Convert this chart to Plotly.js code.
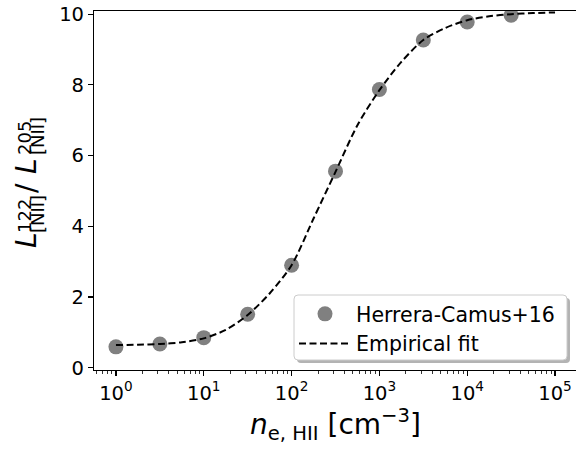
<!DOCTYPE html>
<html><head><meta charset="utf-8">
<script src="https://cdn.plot.ly/plotly-3.0.1.min.js"></script>
<style>html,body{margin:0;padding:0;overflow:hidden;background:#fff}#chart{width:600px;height:449px}</style>
</head><body><div id="chart"></div>
<script>
// ---- data ----
const obsDensity = [1, 3.162, 10, 31.62, 100, 316.2, 1000, 3162, 10000, 31623];
const obsRatio   = [0.59, 0.67, 0.85, 1.51, 2.90, 5.56, 7.87, 9.27, 9.78, 9.97];
const fitDensity = [1, 1.778, 3.162, 5.623, 10, 17.78, 31.62, 56.23, 100, 177.8, 316.2, 562.3,
                    1000, 1778, 3162, 5623, 10000, 17783, 31623, 56234, 100000];
const fitRatio   = [0.64, 0.65, 0.67, 0.72, 0.83, 1.07, 1.49, 2.10, 2.90, 4.22, 5.54, 6.86,
                    7.85, 8.65, 9.27, 9.61, 9.83, 9.94, 10.00, 10.03, 10.05];
const seriesNames = ['Herrera-Camus+16', 'Empirical fit'];
const xTickVals = [1, 10, 100, 1000, 10000, 100000];
const xTickText = ['10<sup>0</sup>', '10<sup>1</sup>', '10<sup>2</sup>', '10<sup>3</sup>', '10<sup>4</sup>', '10<sup>5</sup>'];
const yTickVals = [0, 2, 4, 6, 8, 10];
const yTickText = ['0', '2', '4', '6', '8', '10'];

// ---- geometry (pixels) ----
const FW = 600, FH = 449;
const PL = 94, PR = 577, PT = 11, PB = 370;
const PW = PR - PL, PH = PB - PT;
const px = v => (v - PL) / PW;
const py = v => (PB - v) / PH;

const minorX = [];
for (let d = -1; d <= 5; d++) for (let m = 2; m <= 9; m++) {
  const v = m * Math.pow(10, d);
  if (v > 0.56 && v < 178000) minorX.push(v);
}

function roundRect(x0, y0, x1, y1, r) {
  const rx = r / PW, ry = r / PH;
  const X0 = px(x0), X1 = px(x1), Y0 = py(y0), Y1 = py(y1);
  return `M${X0 + rx},${Y0} L${X1 - rx},${Y0} Q${X1},${Y0} ${X1},${Y0 - ry} ` +
         `L${X1},${Y1 + ry} Q${X1},${Y1} ${X1 - rx},${Y1} L${X0 + rx},${Y1} ` +
         `Q${X0},${Y1} ${X0},${Y1 + ry} L${X0},${Y0 - ry} Q${X0},${Y0} ${X0 + rx},${Y0} Z`;
}

const FONT = 'DejaVu Sans, sans-serif';

const traces = [
  {
    x: obsDensity, y: obsRatio, name: seriesNames[0], type: 'scatter', mode: 'markers',
    marker: {size: 15, color: '#808080', line: {width: 0}}
  },
  {
    x: fitDensity, y: fitRatio, name: seriesNames[1], type: 'scatter', mode: 'lines',
    line: {color: '#000000', width: 2, dash: '7px,3.5px', shape: 'spline', smoothing: 0.8}
  }
];

function yPart(text, cx, cy, size) {
  return {
    xref: 'paper', yref: 'paper', x: 0, y: 0, xshift: cx - PL, yshift: PB - cy,
    xanchor: 'center', yanchor: 'middle', showarrow: false, textangle: -90,
    text: text, font: {family: FONT, size: size, color: '#000'}
  };
}

const layout = {
  width: FW, height: FH,
  margin: {l: PL, r: FW - PR, t: PT, b: FH - PB, pad: 0},
  paper_bgcolor: '#fff', plot_bgcolor: '#fff',
  showlegend: true,
  font: {family: FONT, color: '#000', size: 19.5},
  xaxis: {
    type: 'log', range: [-0.25, 5.25],
    showline: true, linecolor: '#000', linewidth: 1.1, mirror: true,
    showgrid: false, zeroline: false,
    ticks: 'outside', ticklen: 5, tickwidth: 1.1, tickcolor: '#000',
    tickmode: 'array', tickvals: xTickVals, ticktext: xTickText,
    tickfont: {family: FONT, size: 19.5, color: '#000'},
    minor: {tickmode: 'array', tickvals: minorX, ticks: 'outside', ticklen: 3, tickwidth: 0.8, tickcolor: '#000', showgrid: false},
    title: {text: '<i>n</i><sub>e, HII</sub> [cm<sup>\u22123</sup>]', font: {family: FONT, size: 28, color: '#000'}, standoff: 8}
  },
  yaxis: {
    range: [-0.065, 10.09],
    showline: true, linecolor: '#000', linewidth: 1.1, mirror: true,
    showgrid: false, zeroline: false,
    ticks: 'outside', ticklen: 5, tickwidth: 1.1, tickcolor: '#000',
    tickmode: 'array', tickvals: yTickVals, ticktext: yTickText,
    tickfont: {family: FONT, size: 19.5, color: '#000'}
  },
  legend: {
    x: px(294), y: py(294), xanchor: 'left', yanchor: 'top',
    bgcolor: 'rgba(0,0,0,0)', borderwidth: 0,
    font: {family: FONT, size: 20.5, color: '#000'},
    itemwidth: 52
  },
  shapes: [
    {type: 'path', xref: 'paper', yref: 'paper', layer: 'above', path: roundRect(297, 298, 570, 363, 4),
     fillcolor: '#b3b3b3', line: {width: 0}},
    {type: 'path', xref: 'paper', yref: 'paper', layer: 'above', path: roundRect(294, 295, 567, 360, 4),
     fillcolor: '#ffffff', line: {color: '#cccccc', width: 1}}
  ],
  annotations: [
    yPart('<i>L</i>', 26, 240, 28),
    yPart('122', 24, 216, 18),
    yPart('[NII]', 37, 214, 18),
    yPart('/', 26, 188, 28),
    yPart('<i>L</i>', 26, 166, 28),
    yPart('205', 24, 138, 18),
    yPart('[NII]', 37, 136, 18)
  ]
};

Plotly.newPlot('chart', traces, layout, {displayModeBar: false, staticPlot: true});
</script>
</body></html>
